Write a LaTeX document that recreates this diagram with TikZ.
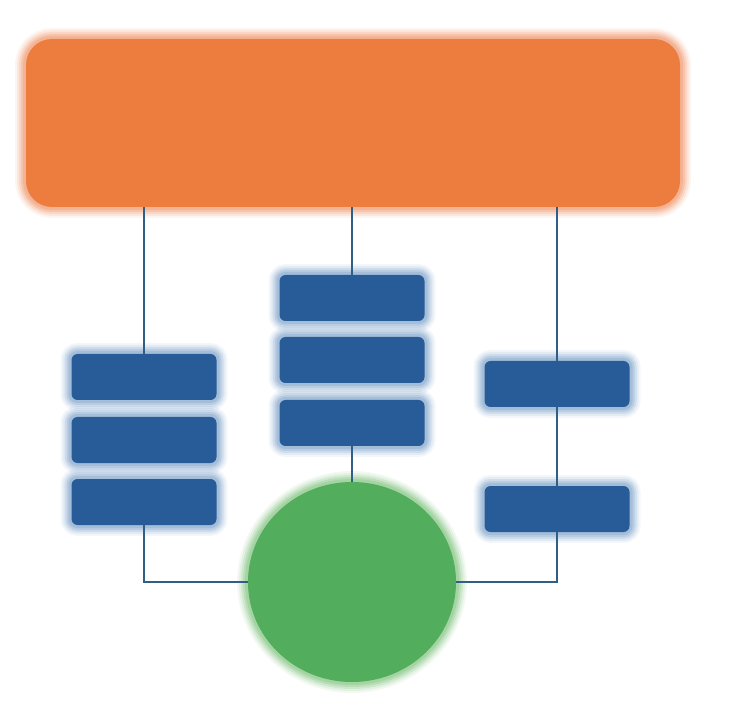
\documentclass[tikz,border=0pt]{standalone}
\usetikzlibrary{shapes.geometric}
\definecolor{orangefill}{HTML}{ED7D3E}
\definecolor{orangeglow}{HTML}{F09A70}
\definecolor{bluefill}{HTML}{285C98}
\definecolor{blueglow}{HTML}{86A8CE}
\definecolor{greenfill}{HTML}{52AD5C}
\definecolor{greenglow}{HTML}{86C584}
\definecolor{kabel}{HTML}{2F5F85}
\tikzset{
  glow/.style={preaction={draw=#1,line width=22pt,opacity=.1},
               preaction={draw=#1,line width=18pt,opacity=.15},
               preaction={draw=#1,line width=14pt,opacity=.22},
               preaction={draw=#1,line width=10pt,opacity=.3},
               preaction={draw=#1,line width=6pt,opacity=.4}},
  kopf/.style={rectangle,rounded corners=26pt,fill=orangefill,glow=orangeglow,
               minimum width=654pt,minimum height=168pt},
  block/.style={rectangle,rounded corners=6pt,fill=bluefill,glow=blueglow,
               minimum width=145pt,minimum height=46pt},
  kreis/.style={ellipse,fill=greenfill,glow=greenglow,
               minimum width=208pt,minimum height=200pt},
  kabel/.style={draw=kabel,line width=1.2pt}
}
\begin{document}
\begin{tikzpicture}[x=1pt,y=-1pt,inner sep=0pt]
    \useasboundingbox (0,0) rectangle (740,714);
    % Kopf
    \node[kopf] (o) at (353,123) {};
    % Bauelemente links
    \node[block] (l1) at (144,377) {};
    \node[block] (l2) at (144,440) {};
    \node[block] (l3) at (144,502) {};
    % Bauelemente Mitte
    \node[block] (m1) at (352,298) {};
    \node[block] (m2) at (352,360) {};
    \node[block] (m3) at (352,423) {};
    % Bauelemente rechts
    \node[block] (r1) at (557,384) {};
    \node[block] (r2) at (557,509) {};
    % Kreis
    \node[kreis] (c) at (352,582) {};
    % Kabel links
    \draw[kabel] (l1.north) -- (l1.north |- o.south);
    \draw[kabel] (l3.south) |- (c.west);
    % Kabel Mitte
    \draw[kabel] (m1.north) -- (m1.north |- o.south);
    \draw[kabel] (m3.south) -- (c.north);
    % Kabel rechts
    \draw[kabel] (r1.north) -- (r1.north |- o.south);
    \draw[kabel] (r1.south) -- (r2.north);
    \draw[kabel] (c.east) -| (r2.south);
\end{tikzpicture}
\end{document}
